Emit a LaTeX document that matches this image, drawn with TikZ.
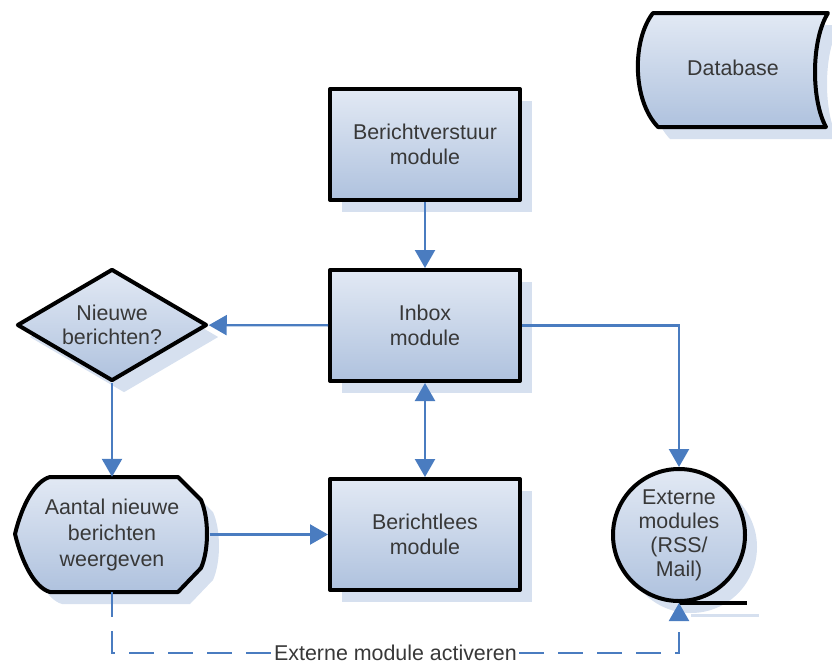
\documentclass[tikz,border=0pt]{standalone}
\usepackage{fontspec}
\setmainfont{Liberation Sans}
\usetikzlibrary{arrows.meta,shapes.geometric,shadows}
\definecolor{boxlight}{HTML}{E2E9F4}
\definecolor{boxdark}{HTML}{AFC2DE}
\definecolor{shadowblue}{HTML}{D6E0EF}
\definecolor{lineblue}{HTML}{4A7CC0}
\definecolor{textgray}{HTML}{383838}

\begin{document}
\begin{tikzpicture}[x=1pt,y=-1pt,>={Triangle[length=18pt,width=20pt]}]
  \tikzstyle{every node}=[font=\fontsize{21.4}{24.5}\selectfont,text=textgray,align=center]
  \tikzstyle{blok}=[draw,line width=4pt,line join=round,top color=boxlight,bottom color=boxdark,
    drop shadow={shadow xshift=12pt,shadow yshift=-12pt,fill=shadowblue,opacity=1}]
  \tikzstyle{module}=[blok,rectangle,minimum width=190pt,minimum height=111pt]
  \tikzstyle{flow}=[draw=lineblue,line width=2.3pt]
  \useasboundingbox (0,0) rectangle (832,664);

  \path[blok] (653,13) -- (828,13) .. controls (811,40) and (811,100) .. (826,127)
    -- (658,127) .. controls (632,100) and (632,40) .. (653,13) -- cycle;
  \node (db) at (733,68) {Database};

  \node (verstuur) at (425,144.5) [module] {Berichtverstuur\\module};
  \node (inbox)    at (425,325.5) [module] {Inbox\\module};
  \node (lees)     at (425,534.5) [module] {Berichtlees\\module};

  \node (vraag) at (112,325) [blok,diamond,shape aspect=1.7,minimum width=190pt,minimum height=112pt,inner sep=0pt] {Nieuwe\\berichten?};

  \path[blok] (15,534) .. controls (22,505) and (35,481) .. (50,477) -- (178,477) -- (201,500)
    .. controls (209,518) and (209,550) .. (201,568) -- (178,592) -- (50,592)
    .. controls (35,588) and (22,563) .. (15,534) -- cycle;
  \node (weergave) at (112,534.5) [minimum width=195pt,minimum height=115pt,font=\fontsize{21.4}{26}\selectfont] {Aantal nieuwe\\berichten\\weergeven};

  \node (extern) at (679,535) [blok,circle,minimum size=132pt,inner sep=0pt,font=\fontsize{21.4}{24}\selectfont] {Externe\\modules\\(RSS/\\Mail)};
  \draw[shadowblue,line width=3pt] ([xshift=12pt,yshift=-12pt]extern.south) -- ++(68,0);
  \draw[line width=4pt] (extern.south) -- ++(68,0);

  \draw[flow,->] (verstuur) -- (inbox);
  \draw[flow,->] (inbox) -- (vraag);
  \draw[flow,->] (inbox.east) -| (extern);
  \draw[flow,<->] (inbox) -- (lees);
  \draw[flow,->] (vraag) -- (weergave);
  \draw[flow,->] (weergave) -- (lees);
  \draw[flow,->,dash pattern=on 25pt off 14pt] (weergave.south) -- ++(0,61)
    -| node[pos=0.25,fill=white,inner sep=1pt] {Externe module activeren} (extern.south);
\end{tikzpicture}
\end{document}
